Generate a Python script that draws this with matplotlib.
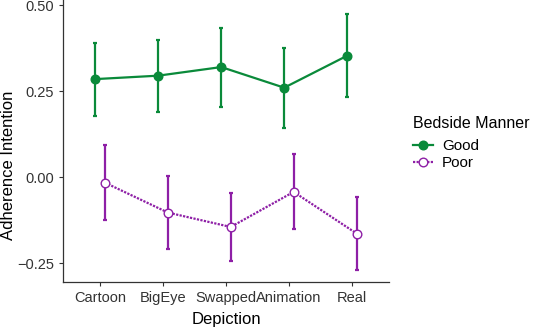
import matplotlib
matplotlib.use("Agg")
import matplotlib.pyplot as plt
import numpy as np

plt.rcParams['font.family'] = ['Liberation Sans', 'DejaVu Sans']

# data
depictions = ['Cartoon', 'BigEye', 'Swapped', 'Animation', 'Real']
good_mean = [0.285, 0.295, 0.320, 0.260, 0.353]
good_lo = [0.177, 0.190, 0.204, 0.143, 0.232]
good_hi = [0.390, 0.400, 0.434, 0.375, 0.473]
poor_mean = [-0.016, -0.103, -0.145, -0.043, -0.164]
poor_lo = [-0.125, -0.209, -0.245, -0.152, -0.270]
poor_hi = [0.093, 0.004, -0.045, 0.066, -0.059]
yticks = [-0.25, 0.00, 0.25, 0.50]

green = '#0a8a3a'
purple = '#8e1fa6'
dodge = 0.075

fig = plt.figure(figsize=(5.33, 3.31), dpi=100)
ax = fig.add_axes([63/533, 1 - 282/331, (389 - 63)/533, 282/331])

x = np.arange(1, len(depictions) + 1)

def draw(xpos, mean, lo, hi, color, face, ls, label):
    mean = np.array(mean)
    yerr = [mean - np.array(lo), np.array(hi) - mean]
    ax.errorbar(xpos, mean, yerr=yerr, fmt='none', ecolor=color, elinewidth=1.6,
                capsize=1.3, capthick=1.6, zorder=2)
    ax.plot(xpos, mean, color=color, lw=1.6, ls=ls, marker='o', ms=6.2,
            mfc=face, mec=color, mew=1.0, label=label, zorder=3)

draw(x - dodge, good_mean, good_lo, good_hi, green, green, '-', 'Good')
draw(x + dodge, poor_mean, poor_lo, poor_hi, purple, 'white', (0, (1, 0.6)), 'Poor')

ax.set_xlim(0.41, 5.59)
ax.set_ylim(-0.305, 0.515)
ax.set_xticks(x)
ax.set_xticklabels(depictions)
ax.set_yticks(yticks)
ax.set_yticklabels(['\u22120.25', '0.00', '0.25', '0.50'])
ax.tick_params(colors='#333333', labelsize=10.5, length=3, width=0.8)
for s in ['top', 'right']:
    ax.spines[s].set_visible(False)
for s in ['left', 'bottom']:
    ax.spines[s].set_color('#333333')
    ax.spines[s].set_linewidth(0.9)

ax.set_xlabel('Depiction', fontsize=12, labelpad=5)
ax.set_ylabel('Adherence Intention', fontsize=12)
# centre of the y title sits about 9 px from the left edge
ax.yaxis.set_label_coords(9/533, 0.5, transform=fig.transFigure)
ax.yaxis.label.set_va('center')

leg = ax.legend(title='Bedside Manner', loc='upper left', bbox_to_anchor=(413/533, 1 - 116/331),
                bbox_transform=fig.transFigure,
                frameon=False, fontsize=11, title_fontsize=11.5, handlelength=1.3,
                handletextpad=0.6, labelspacing=0.2, borderaxespad=0, borderpad=0)
leg._legend_box.align = 'left'
leg._legend_box.sep = 6

fig.savefig('out.png', dpi=100)
